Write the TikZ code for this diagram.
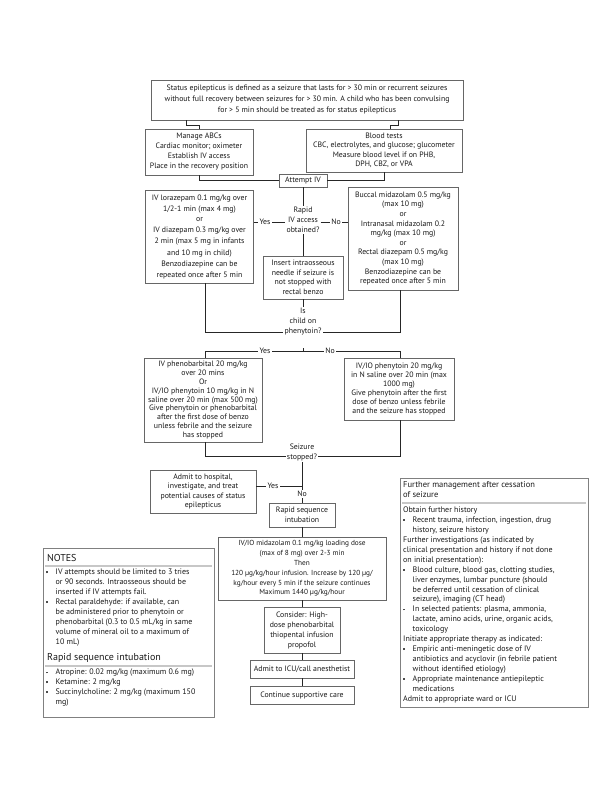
\documentclass[tikz,border=0pt]{standalone}
\usepackage{fontspec}
\setmainfont{PT Sans}
\newcommand\fz[1]{\fontsize{7.8}{#1}\selectfont}
\newcommand\fs[1]{\fontsize{8}{#1}\selectfont}
\newcommand\bul{\makebox[9.5pt][l]{\textcolor{black!70}{\rule[1.6pt]{1.8pt}{1.8pt}}}}
\newcommand\ind{\hspace*{9.5pt}}
\begin{document}
\begin{tikzpicture}[x=1pt,y=-1pt,
  box/.style={draw=black!60, line width=0.5pt, fill=white, align=center, inner sep=0pt, text=black!90},
  conn/.style={draw=black!85, line width=0.7pt},
  lbl/.style={fill=white, inner sep=1.2pt, font=\fz{8}, text=black!90},
  qn/.style={align=center, inner sep=1pt, font=\fz{10}, text=black!90},
  side/.style={draw=black!50, line width=0.5pt, inner sep=0pt},
  rulec/.style={draw=black!22, line width=1.3pt},
  head/.style={anchor=west, inner sep=0pt, font=\fontsize{10}{12}\selectfont, text=black!90},
  body/.style={anchor=north west, align=left, inner sep=0pt, font=\fs{9.95}, text=black!90}]
\useasboundingbox (0,0) rectangle (612,792);

% ---- boxes ----
\node[box, minimum width=312, minimum height=40, font=\fz{11}] (top) at (307,100)
 {Status epilepticus is defined as a seizure that lasts for > 30 min or recurrent seizures\\
  without full recovery between seizures for > 30 min. A child who has been convulsing\\
  for > 5 min should be treated as for status epilepticus};
\node[box, minimum width=108, minimum height=46, font=\fz{10}] (abcs) at (199,152)
 {Manage ABCs\\Cardiac monitor; oximeter\\Establish IV access\\Place in the recovery position};
\node[box, minimum width=156, minimum height=43, font=\fz{9.5}] (blood) at (384,150.5)
 {Blood tests\\CBC, electrolytes, and glucose; glucometer\\Measure blood level if on PHB,\\DPH, CBZ, or VPA};
\node[box, minimum width=48, minimum height=13, font=\fz{8}] (attempt) at (303,180.5) {Attempt IV};
\node[box, minimum width=108, minimum height=93, font=\fz{11}] (loraz) at (199.5,236.5)
 {IV lorazepam 0.1 mg/kg over\\1/2-1 min (max 4 mg)\\or\\IV diazepam 0.3 mg/kg over\\2 min (max 5 mg in infants\\and 10 mg in child)\\Benzodiazepine can be\\repeated once after 5 min};
\node[qn] (q1) at (303,220) {Rapid\\IV access\\obtained?};
\node[box, minimum width=110, minimum height=103, font=\fz{9.6}] (buccal) at (403,238.5)
 {Buccal midazolam 0.5 mg/kg\\(max 10 mg)\\or\\Intranasal midazolam 0.2\\mg/kg (max 10 mg)\\or\\Rectal diazepam 0.5 mg/kg\\(max 10 mg)\\Benzodiazepine can be\\repeated once after 5 min};
\node[box, minimum width=80, minimum height=43, font=\fz{9.5}] (insert) at (303,277.5)
 {Insert intraosseous\\needle if seizure is\\not stopped with\\rectal benzo};
\node[qn] (q2) at (303,322) {Is\\child on\\phenytoin?};
\node[box, minimum width=118, minimum height=84, font=\fz{8.8}] (pheno) at (203,400)
 {IV phenobarbital 20 mg/kg\\over 20 mins\\Or\\IV/IO phenytoin 10 mg/kg in N\\saline over 20 min (max 500 mg)\\Give phenytoin or phenobarbital\\after the first dose of benzo\\unless febrile and the seizure\\has stopped};
\node[box, minimum width=110, minimum height=62, font=\fz{9}] (pht) at (399,389)
 {IV/IO phenytoin 20 mg/kg\\in N saline over 20 min (max\\1000 mg)\\Give phenytoin after the first\\dose of benzo unless febrile\\and the seizure has stopped};
\node[qn] (q3) at (302,452) {Seizure\\stopped?};
\node[box, minimum width=106, minimum height=43, font=\fz{9.5}] (admit) at (203,491.5)
 {Admit to hospital,\\investigate, and treat\\potential causes of status\\epilepticus};
\node[box, minimum width=66, minimum height=24, font=\fz{9.5}] (rapid) at (302,515)
 {Rapid sequence\\intubation};
\node[box, minimum width=168, minimum height=63, font=\fontsize{7.3}{9.8}\selectfont] (mid) at (302,568.5)
 {IV/IO midazolam 0.1 mg/kg loading dose\\(max of 8 mg) over 2-3 min\\Then\\120 µg/kg/hour infusion. Increase by 120 µg/\\kg/hour every 5 min if the seizure continues\\Maximum 1440 µg/kg/hour};
\node[box, minimum width=76, minimum height=46, font=\fz{10}] (consider) at (302,630)
 {Consider: High-\\dose phenobarbital\\thiopental infusion\\propofol};
\node[box, minimum width=104, minimum height=18, font=\fz{8}] (icu) at (302,669) {Admit to ICU/call anesthetist};
\node[box, minimum width=104, minimum height=18, font=\fz{8}] (cont) at (302,695) {Continue supportive care};

% ---- connectors ----
\draw[conn] (top.south -| 186,0) -- (186,125) -- (199,125) -- (abcs.north);
\draw[conn] (top.south -| 398,0) -- (398,125) -- (390,125) -- (blood.north -| 390,0);
\draw[conn] (abcs.south) |- (attempt.west);
\draw[conn] (blood.south) |- (attempt.east);
\draw[conn] (attempt.south) -- (q1.north);
\draw[conn] (loraz.east |- 0,222) -- (q1.west |- 0,222);
\draw[conn] (q1.east |- 0,222) -- (buccal.west |- 0,222);
\node[lbl] at (265,222) {Yes};
\node[lbl] at (336,222) {No};
\draw[conn] (q1.south) -- (insert.north);
\draw[conn] (insert.south) -- (q2.north);
\draw[conn] (loraz.south -| 205,0) |- (q2.west |- 0,332);
\draw[conn] (buccal.south -| 400,0) |- (q2.east |- 0,332);
\coordinate (tick) at (303,348);
\draw[conn] (pheno.north -| 205,0) -- (205,351) -- (400,351) -- (pht.north -| 400,0);
\draw[conn] (tick) -- (303,351);
\node[lbl] at (265,351) {Yes};
\node[lbl] at (330,351) {No};
\draw[conn] (pheno.south -| 205,0) |- (q3.west |- 0,456);
\draw[conn] (pht.south -| 400,0) |- (q3.east |- 0,456);
\draw[conn] (q3.south) -- (rapid.north);
\draw[conn] (admit.east |- 0,486) -- (302,486);
\node[lbl] at (273,486) {Yes};
\node[lbl] at (302,494) {No};
\draw[conn] (rapid.south) -- (mid.north);
\draw[conn] (mid.south) -- (consider.north);
\draw[conn] (consider.south) -- (icu.north);
\draw[conn] (icu.south) -- (cont.north);

% ---- notes ----
\node[side, minimum width=171, minimum height=169, anchor=north west] (notes) at (43,548) {};
\node[head] (notesh) at (47,558) {NOTES};
\draw[rulec] (45,566) -- (212,566);
\node[body] (notesb) at (46,569)
 {\bul IV attempts should be limited to 3 tries\\
  \ind or 90 seconds. Intraosseous should be\\
  \ind inserted if IV attempts fail.\\
  \bul Rectal paraldehyde: if available, can\\
  \ind be administered prior to phenytoin or\\
  \ind phenobarbital (0.3 to 0.5 mL/kg in same\\
  \ind volume of mineral oil to a maximum of\\
  \ind 10 mL)};
\node[head] (rsih) at (47,658) {Rapid sequence intubation};
\draw[rulec] (45,666) -- (212,666);
\node[body] (rsib) at (46,669)
 {\bul Atropine: 0.02 mg/kg (maximum 0.6 mg)\\
  \bul Ketamine: 2 mg/kg\\
  \bul Succinylcholine: 2 mg/kg (maximum 150\\
  \ind mg)};

% ---- further management ----
\node[side, minimum width=188, minimum height=229, anchor=north west] (further) at (400,478) {};
\node[body, font=\fontsize{8.5}{10}\selectfont] (furtherh) at (403,481.5)
 {Further management after cessation\\of seizure};
\draw[rulec] (402,503) -- (586,503);
\node[body] (furtherb) at (403,506.5)
 {Obtain further history\\
  \bul Recent trauma, infection, ingestion, drug\\
  \ind history, seizure history\\
  Further investigations (as indicated by\\
  clinical presentation and history if not done\\
  on initial presentation):\\
  \bul Blood culture, blood gas, clotting studies,\\
  \ind liver enzymes, lumbar puncture (should\\
  \ind be deferred until cessation of clinical\\
  \ind seizure), imaging (CT head)\\
  \bul In selected patients: plasma, ammonia,\\
  \ind lactate, amino acids, urine, organic acids,\\
  \ind toxicology\\
  Initiate appropriate therapy as indicated:\\
  \bul Empiric anti-meningetic dose of IV\\
  \ind antibiotics and acyclovir (in febrile patient\\
  \ind without identified etiology)\\
  \bul Appropriate maintenance antiepileptic\\
  \ind medications\\
  Admit to appropriate ward or ICU};
\end{tikzpicture}
\end{document}
